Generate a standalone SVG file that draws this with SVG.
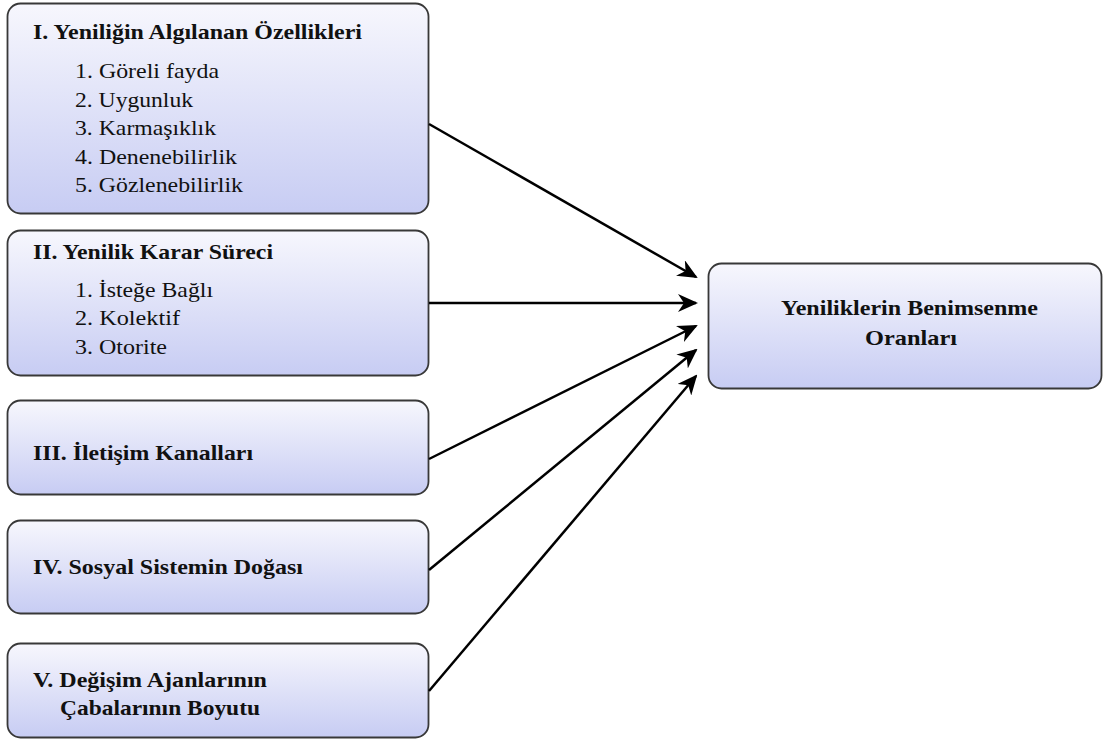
<svg xmlns="http://www.w3.org/2000/svg" width="1107" height="740" viewBox="0 0 1107 740">
  <defs>
    <linearGradient id="boxFill" x1="0" y1="0" x2="0" y2="1">
      <stop offset="0" stop-color="#f7f7fd"/>
      <stop offset="1" stop-color="#c7ccf3"/>
    </linearGradient>
    <marker id="arrowHead" viewBox="0 0 20 18" refX="18" refY="9" markerWidth="20" markerHeight="18" markerUnits="userSpaceOnUse" orient="auto">
      <path d="M0,0 L20,9 L0,18 L6,9 Z" fill="#000"/>
    </marker>
    <style>
      .box { fill: url(#boxFill); stroke: #383838; stroke-width: 1.8; }
      text { font-family: 'Liberation Serif', 'Times New Roman', Times, serif; fill: #111; }
      .title { font-weight: bold; font-size: 21px; }
      .item { font-size: 21px; }
      .link { stroke: #000; stroke-width: 2.5; fill: none; marker-end: url(#arrowHead); }
    </style>
  </defs>

  <rect width="1107" height="740" fill="#fff"/>

  <g id="node-1">
    <rect class="box" x="7.5" y="3.5" width="421" height="210" rx="13"/>
    <text class="title" x="33" y="39" textLength="329" lengthAdjust="spacingAndGlyphs">I. Yeniliğin Algılanan Özellikleri</text>
    <text class="item" x="75" y="78" textLength="144" lengthAdjust="spacingAndGlyphs">1. Göreli fayda</text>
    <text class="item" x="75" y="107" textLength="118" lengthAdjust="spacingAndGlyphs">2. Uygunluk</text>
    <text class="item" x="75" y="135" textLength="141" lengthAdjust="spacingAndGlyphs">3. Karmaşıklık</text>
    <text class="item" x="75" y="164" textLength="162" lengthAdjust="spacingAndGlyphs">4. Denenebilirlik</text>
    <text class="item" x="75" y="192" textLength="168" lengthAdjust="spacingAndGlyphs">5. Gözlenebilirlik</text>
  </g>

  <g id="node-2">
    <rect class="box" x="7.5" y="230.5" width="421" height="145" rx="13"/>
    <text class="title" x="33" y="259" textLength="240" lengthAdjust="spacingAndGlyphs">II. Yenilik Karar Süreci</text>
    <text class="item" x="75" y="297" textLength="138" lengthAdjust="spacingAndGlyphs">1. İsteğe Bağlı</text>
    <text class="item" x="75" y="325" textLength="105" lengthAdjust="spacingAndGlyphs">2. Kolektif</text>
    <text class="item" x="75" y="354" textLength="92" lengthAdjust="spacingAndGlyphs">3. Otorite</text>
  </g>

  <g id="node-3">
    <rect class="box" x="7.5" y="400.5" width="421" height="94" rx="13"/>
    <text class="title" x="33" y="460" textLength="220" lengthAdjust="spacingAndGlyphs">III. İletişim Kanalları</text>
  </g>

  <g id="node-4">
    <rect class="box" x="7.5" y="520.5" width="421" height="93" rx="13"/>
    <text class="title" x="33" y="574" textLength="270" lengthAdjust="spacingAndGlyphs">IV. Sosyal Sistemin Doğası</text>
  </g>

  <g id="node-5">
    <rect class="box" x="7.5" y="643.5" width="421" height="94" rx="13"/>
    <text class="title" x="33" y="687" textLength="234" lengthAdjust="spacingAndGlyphs">V. Değişim Ajanlarının</text>
    <text class="title" x="60" y="715" textLength="200" lengthAdjust="spacingAndGlyphs">Çabalarının Boyutu</text>
  </g>

  <g id="node-target">
    <rect class="box" x="708.5" y="263.5" width="393" height="125" rx="13"/>
    <text class="title" x="781" y="315" textLength="257" lengthAdjust="spacingAndGlyphs">Yeniliklerin Benimsenme</text>
    <text class="title" x="865" y="345" textLength="92" lengthAdjust="spacingAndGlyphs">Oranları</text>
  </g>

  <g id="connectors">
    <line class="link" x1="429" y1="124" x2="696" y2="277"/>
    <line class="link" x1="429" y1="303" x2="696" y2="303"/>
    <line class="link" x1="429" y1="459" x2="696" y2="326"/>
    <line class="link" x1="429" y1="570" x2="696" y2="350"/>
    <line class="link" x1="429" y1="691" x2="696" y2="376"/>
  </g>
</svg>
